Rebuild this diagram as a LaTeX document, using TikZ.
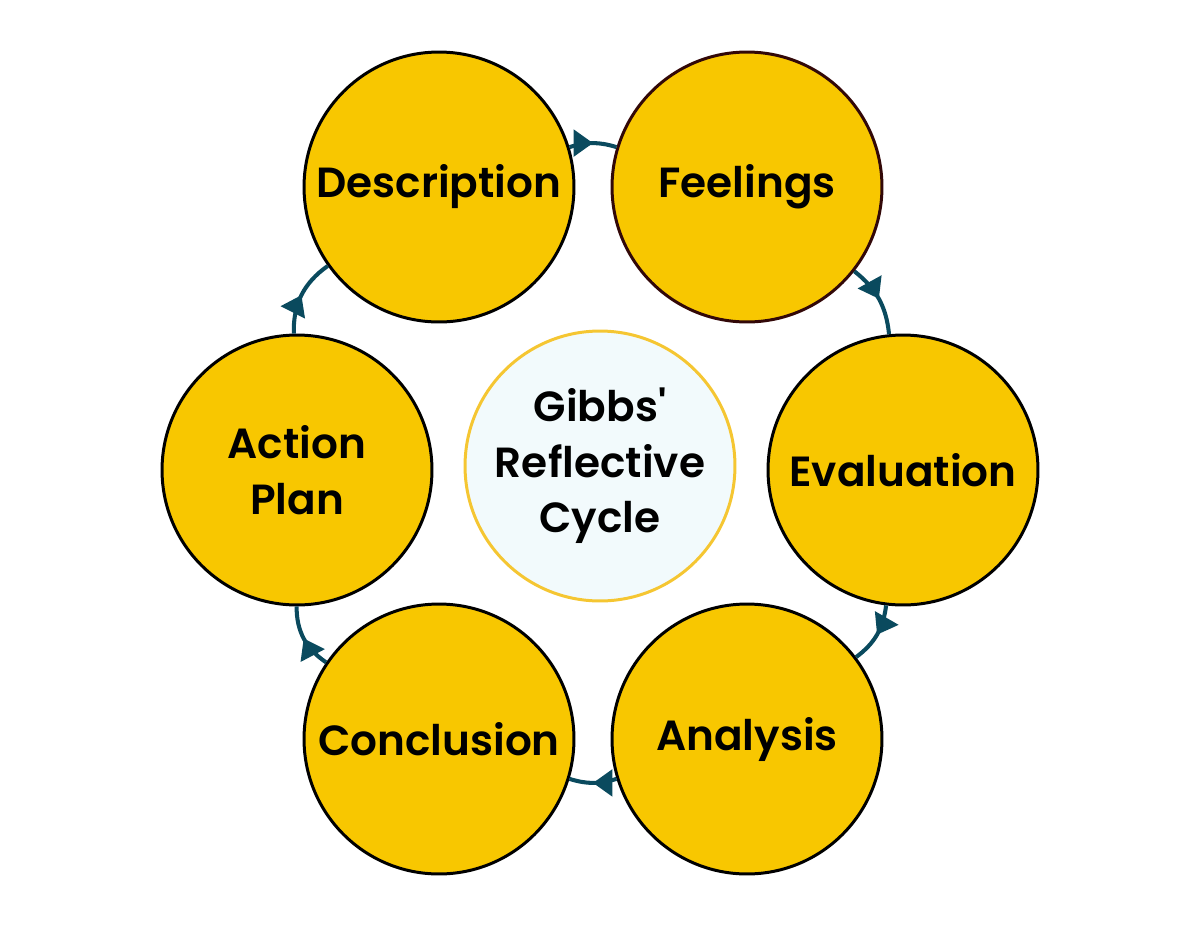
\documentclass[tikz,border=0pt]{standalone}
\usepackage{fontspec}
\setmainfont{Poppins}[Ligatures=TeXOff, BoldFont={Poppins SemiBold}]
\usepackage{tikz}
\usetikzlibrary{arrows.meta,decorations.markings}
\definecolor{stagefill}{RGB}{248,199,0}
\definecolor{hubfill}{RGB}{242,250,252}
\definecolor{hubline}{RGB}{245,198,50}
\definecolor{cycteal}{RGB}{10,74,94}
\definecolor{feelline}{RGB}{50,8,8}

\begin{document}
\begin{tikzpicture}[
    x=0.02cm, y=-0.02cm,
    font=\fontsize{24}{31.5}\selectfont\bfseries,
    stage/.style={circle, draw=black, line width=1.7pt, fill=stagefill,
                  minimum size=5.4cm, inner sep=0pt, align=center},
    hub/.style={circle, draw=hubline, line width=1.7pt, fill=hubfill,
                minimum size=5.4cm, inner sep=0pt, align=center},
    cyc/.style={draw=cycteal, line width=2.3pt,
                postaction={decorate},
                decoration={markings, mark=at position 0.5 with
                  {\arrow{Triangle[length=11pt,width=15pt]}}}}
]
\useasboundingbox (0,0) rectangle (1200,927);
\node[hub] (hub) at (600,466) {Gibbs'\\Reflective\\Cycle};
\node[stage] (desc) at (439,187) {Description};
\node[stage, draw=feelline] (feel) at (747,187) {Feelings};
\node[stage] (eval) at (903,470) {Evaluation};
\node[stage] (anal) at (747,739) {Analysis};
\node[stage] (concl) at (439,739) {Conclusion};
\node[stage] (plan) at (297,470) {Action\\Plan};
\draw[cyc, cycteal] (desc) to[bend left=17] (feel);
\draw[cyc, cycteal] (feel) to[bend left=23] (eval);
\draw[cyc, cycteal] (eval) to[bend left=23] (anal);
\draw[cyc, cycteal] (anal) to[bend left=17] (concl);
\draw[cyc, cycteal] (concl) to[bend left=28] (plan);
\draw[cyc, cycteal] (plan) to[bend left=28] (desc);
\end{tikzpicture}
\end{document}
